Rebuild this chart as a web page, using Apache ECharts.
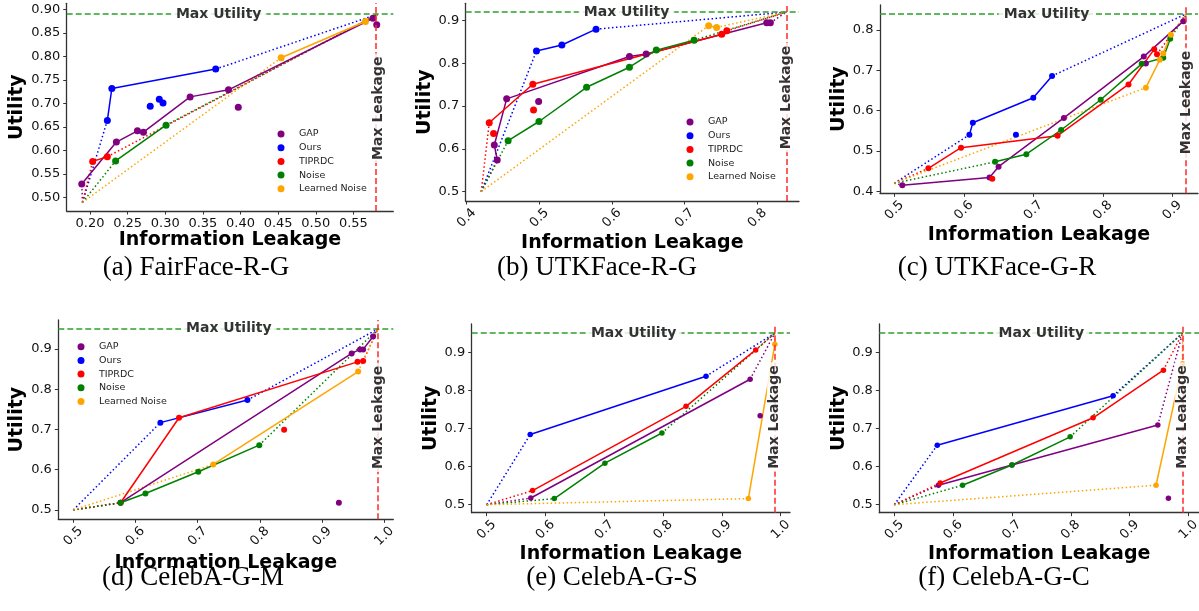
<!DOCTYPE html>
<html><head><meta charset="utf-8">
<script src="https://cdn.jsdelivr.net/npm/echarts@6/dist/echarts.min.js"></script>
<style>html,body{margin:0;padding:0;background:#fff}#c{width:1199px;height:611px}</style>
</head><body><div id="c"></div>
<script>
// ---------------- DATA ----------------
const methodNames = ['GAP', 'Ours', 'TIPRDC', 'Noise', 'Learned Noise'];
const captions = ['(a) FairFace-R-G', '(b) UTKFace-R-G', '(c) UTKFace-G-R', '(d) CelebA-G-M', '(e) CelebA-G-S', '(f) CelebA-G-C'];

// (a) FairFace-R-G
const aOrigin = [0.19, 0.49];
const aMax = [0.583, 0.89];
const aGAP = [[0.189,0.529],[0.235,0.618],[0.263,0.642],[0.271,0.639],[0.333,0.714],[0.384,0.729],[0.576,0.881]];
const aGAPExtra = [[0.397,0.692],[0.581,0.867]];
const aOurs = [[0.223,0.664],[0.229,0.732],[0.367,0.773]];
const aOursExtra = [[0.280,0.694],[0.292,0.709],[0.297,0.701]];
const aTIPRDC = [[0.2035,0.577],[0.223,0.587]];
const aNoise = [[0.234,0.578],[0.301,0.654]];
const aLearned = [[0.454,0.797],[0.566,0.874]];

// (b) UTKFace-R-G
const bOrigin = [0.42, 0.50];
const bMax = [0.84, 0.92];
const bGAP = [[0.442,0.574],[0.438,0.609],[0.455,0.717],[0.624,0.816],[0.647,0.822],[0.813,0.895],[0.818,0.895]];
const bGAPExtra = [[0.499,0.711]];
const bOurs = [[0.496,0.829],[0.531,0.843],[0.578,0.880]];
const bTIPRDC = [[0.431,0.661],[0.491,0.751],[0.751,0.868],[0.758,0.876]];
const bTIPRDCExtra = [[0.437,0.636],[0.492,0.691]];
const bNoise = [[0.457,0.619],[0.4995,0.664],[0.565,0.744],[0.624,0.791],[0.661,0.831],[0.713,0.854]];
const bLearned = [[0.733,0.888],[0.744,0.884]];

// (c) UTKFace-G-R
const cOrigin = [0.50, 0.42];
const cMax = [0.92, 0.84];
const cGAP = [[0.5115,0.415],[0.637,0.434],[0.650,0.461],[0.744,0.582],[0.859,0.734],[0.916,0.822]];
const cGAPExtra = [[0.862,0.717]];
const cOurs = [[0.608,0.540],[0.613,0.570],[0.700,0.632],[0.727,0.686]];
const cOursExtra = [[0.675,0.540]];
const cTIPRDC = [[0.549,0.457],[0.596,0.508],[0.735,0.538],[0.837,0.665],[0.874,0.752],[0.878,0.740]];
const cTIPRDCExtra = [[0.641,0.431]];
const cNoise = [[0.645,0.473],[0.690,0.492],[0.740,0.552],[0.797,0.627],[0.856,0.716],[0.887,0.731],[0.897,0.778]];
const cLearned = [[0.862,0.657],[0.882,0.726],[0.887,0.742],[0.898,0.788]];

// (d) CelebA-G-M
const dOrigin = [0.50, 0.50];
const dMax = [0.99, 0.95];
const dGAP = [[0.576,0.518],[0.9475,0.889],[0.961,0.899],[0.966,0.899],[0.982,0.931]];
const dGAPExtra = [[0.927,0.518]];
const dOurs = [[0.640,0.717],[0.780,0.773]];
const dTIPRDC = [[0.576,0.518],[0.670,0.729],[0.957,0.868],[0.966,0.870]];
const dTIPRDCExtra = [[0.839,0.699]];
const dNoise = [[0.576,0.518],[0.616,0.541],[0.701,0.595],[0.799,0.661]];
const dLearned = [[0.725,0.613],[0.958,0.844]];

// (e) CelebA-G-S
const eOrigin = [0.50, 0.50];
const eMax = [0.99, 0.95];
const eGAP = [[0.575,0.5175],[0.948,0.829]];
const eGAPExtra = [[0.965,0.733]];
const eOurs = [[0.574,0.684],[0.873,0.837]];
const eTIPRDC = [[0.578,0.537],[0.839,0.758],[0.9575,0.906]];
const eNoise = [[0.615,0.516],[0.701,0.609],[0.798,0.688]];
const eLearned = [[0.945,0.516],[0.990,0.921]];

// (f) CelebA-G-C
const fOrigin = [0.50, 0.50];
const fMax = [0.99, 0.95];
const fGAP = [[0.575,0.551],[0.700,0.604],[0.948,0.709]];
const fGAPExtra = [[0.966,0.517]];
const fOurs = [[0.573,0.656],[0.872,0.786]];
const fTIPRDC = [[0.578,0.557],[0.838,0.728],[0.9575,0.853]];
const fNoise = [[0.616,0.551],[0.700,0.604],[0.799,0.678]];
const fLearned = [[0.945,0.551],[0.990,0.870]];

// axes
const xRange = [[0.169,0.603],[0.3986,0.8574],[0.4794,0.937],[0.4759,1.0145],[0.4745,1.0158],[0.4745,1.018]];
const yRange = [[0.4717,0.9127],[0.478,0.9405],[0.395,0.862],[0.4768,0.972],[0.479,0.974],[0.479,0.974]];
const xTicks = [
  [0.20,0.25,0.30,0.35,0.40,0.45,0.50,0.55],
  [0.4,0.5,0.6,0.7,0.8],
  [0.5,0.6,0.7,0.8,0.9],
  [0.5,0.6,0.7,0.8,0.9,1.0],
  [0.5,0.6,0.7,0.8,0.9,1.0],
  [0.5,0.6,0.7,0.8,0.9,1.0]];
const yTicks = [
  [0.50,0.55,0.60,0.65,0.70,0.75,0.80,0.85,0.90],
  [0.5,0.6,0.7,0.8,0.9],
  [0.4,0.5,0.6,0.7,0.8],
  [0.5,0.6,0.7,0.8,0.9],
  [0.5,0.6,0.7,0.8,0.9],
  [0.5,0.6,0.7,0.8,0.9]];
const tickDecimals = [2,1,1,1,1,1];
const utilLabelX = [0.371, 0.62, 0.719, 0.75, 0.75, 0.75];
const leakLabelY = [0.69, 0.72, 0.62, 0.73, 0.73, 0.73];

// ---------------- LAYOUT / STYLE ----------------
const colors = ['#800080', '#0000ff', '#ff0000', '#008000', '#ffa500'];
const grids = [
  {left:66.7, top:3.3, width:326.6, height:207.7},
  {left:465.7, top:3.3, width:333.3, height:197.7},
  {left:880, top:5, width:318, height:188.3},
  {left:58.3, top:320, width:335, height:199.3},
  {left:471.7, top:324, width:318.3, height:188.7},
  {left:879.3, top:324, width:319.7, height:188.7}];
const xNameGap = [19.5, 32.5, 32, 34, 31, 31];
const yNameGap = [40, 29.5, 29, 32, 29, 28];
const symSize = [7, 7, 6, 6, 5.5, 5.5];
const xRot = [0, 45, 45, 45, 45, 45];
const captionPos = [[196,268],[597,268],[997,268],[193,578],[612,578],[1004,578]];
const legendPos = [{left:277.5, top:129}, {left:686.5, top:117}, {left:77.5, top:341.7}];

const panels = [
  {origin:aOrigin, max:aMax, lines:[aGAP,aOurs,aTIPRDC,aNoise,aLearned], extras:[aGAPExtra,aOursExtra,[],[],[]]},
  {origin:bOrigin, max:bMax, lines:[bGAP,bOurs,bTIPRDC,bNoise,bLearned], extras:[bGAPExtra,[],bTIPRDCExtra,[],[]]},
  {origin:cOrigin, max:cMax, lines:[cGAP,cOurs,cTIPRDC,cNoise,cLearned], extras:[cGAPExtra,cOursExtra,cTIPRDCExtra,[],[]]},
  {origin:dOrigin, max:dMax, lines:[dGAP,dOurs,dTIPRDC,dNoise,dLearned], extras:[dGAPExtra,[],dTIPRDCExtra,[],[]]},
  {origin:eOrigin, max:eMax, lines:[eGAP,eOurs,eTIPRDC,eNoise,eLearned], extras:[eGAPExtra,[],[],[],[]]},
  {origin:fOrigin, max:fMax, lines:[fGAP,fOurs,fTIPRDC,fNoise,fLearned], extras:[fGAPExtra,[],[],[],[]]}];

const FONT = 'DejaVu Sans';
const axisColor = '#333';

const gridOpt = grids.map(g => Object.assign({containLabel:false, outerBoundsMode:'none'}, g));
const xAxes = panels.map((p,i) => ({
  type:'value', gridIndex:i, min:xRange[i][0], max:xRange[i][1],
  name:'Information Leakage', nameLocation:'middle', nameGap:xNameGap[i],
  nameTextStyle:{fontFamily:FONT, fontSize:19, fontWeight:'bold', color:'#000'},
  axisLine:{show:true, onZero:false, lineStyle:{color:axisColor, width:1.3}},
  axisTick:{show:true, length:3.5, customValues:xTicks[i], lineStyle:{color:axisColor, width:1}},
  axisLabel:xRot[i] ? {customValues:xTicks[i], formatter:v=>Number(v).toFixed(tickDecimals[i]), fontFamily:FONT, fontSize:13, color:'#111', rotate:45, align:'center', verticalAlign:'middle', margin:17}
                    : {customValues:xTicks[i], formatter:v=>Number(v).toFixed(tickDecimals[i]), fontFamily:FONT, fontSize:13, color:'#111', margin:6},
  splitLine:{show:false}
}));
const yAxes = panels.map((p,i) => ({
  type:'value', gridIndex:i, min:yRange[i][0], max:yRange[i][1],
  name:'Utility', nameLocation:'middle', nameGap:yNameGap[i], nameRotate:90,
  nameTextStyle:{fontFamily:FONT, fontSize:19, fontWeight:'bold', color:'#000'},
  axisLine:{show:true, onZero:false, lineStyle:{color:axisColor, width:1.3}},
  axisTick:{show:true, length:3.5, customValues:yTicks[i], lineStyle:{color:axisColor, width:1}},
  axisLabel:{customValues:yTicks[i], formatter:v=>Number(v).toFixed(tickDecimals[i]), fontFamily:FONT, fontSize:13, color:'#111', margin:6.5},
  splitLine:{show:false}
}));

const series = [];
const dotted = [1.5, 2.5];
panels.forEach((p, i) => {
  // reference lines
  series.push({
    type:'scatter', xAxisIndex:i, yAxisIndex:i, data:[p.max], symbolSize:0.1, itemStyle:{color:'rgba(0,0,0,0)'}, silent:true, z:1,
    markLine:{symbol:['none','none'], silent:true, animation:false, label:{show:false},
      data:[{yAxis:p.max[1], lineStyle:{color:'#2ca02c', type:[6,3], width:1.5}},
            {xAxis:p.max[0], lineStyle:{color:'#ff2a2a', type:[6,3], width:1.5}}]}
  });
  p.lines.forEach((pts, j) => {
    const c = colors[j];
    series.push({type:'line', xAxisIndex:i, yAxisIndex:i, data:[p.origin, pts[0]], symbol:'none', silent:true, z:2,
      lineStyle:{color:c, width:1.5, type:dotted}});
    series.push({type:'line', xAxisIndex:i, yAxisIndex:i, data:[pts[pts.length-1], p.max], symbol:'none', silent:true, z:2,
      lineStyle:{color:c, width:1.5, type:dotted}});
    series.push({type:'line', name:methodNames[j], xAxisIndex:i, yAxisIndex:i, data:pts, symbol:'circle', symbolSize:symSize[i], showSymbol:true, z:3,
      lineStyle:{color:c, width:1.5}, itemStyle:{color:c}});
    if (p.extras[j].length) {
      series.push({type:'scatter', name:methodNames[j], xAxisIndex:i, yAxisIndex:i, data:p.extras[j], symbol:'circle', symbolSize:symSize[i], z:3, itemStyle:{color:c, opacity:1}});
    }
  });
  // annotation labels
  series.push({type:'scatter', xAxisIndex:i, yAxisIndex:i, data:[[utilLabelX[i], p.max[1]]], symbolSize:0.1, itemStyle:{color:'rgba(0,0,0,0)'}, silent:true, z:10,
    label:{show:true, position:'inside', formatter:'Max Utility', fontFamily:FONT, fontSize:14, fontWeight:'bold', color:'#000', backgroundColor:'#fff', padding:[1,5]}});
  series.push({type:'scatter', xAxisIndex:i, yAxisIndex:i, data:[[p.max[0], leakLabelY[i]]], symbolSize:0.1, itemStyle:{color:'rgba(0,0,0,0)'}, silent:true, z:10,
    label:{show:true, position:'inside', rotate:90, formatter:'Max Leakage', fontFamily:FONT, fontSize:14, fontWeight:'bold', color:'#000', backgroundColor:'#fff', padding:[1,3]}});
});

const legends = legendPos.map(lp => ({
  data:methodNames, orient:'vertical', left:lp.left, top:lp.top, icon:'circle', padding:0,
  itemWidth:26, itemHeight:7, itemGap:3.7, selectedMode:false,
  textStyle:{fontFamily:FONT, fontSize:9.5, color:'#222'}
}));

const graphics = captions.map((t, i) => ({
  type:'text', x:captionPos[i][0], y:captionPos[i][1],
  style:{text:t, fontFamily:'Liberation Serif', fontSize:27, fill:'#000', align:'center', verticalAlign:'middle'}
}));

const chart = echarts.init(document.getElementById('c'), null, {renderer:'canvas'});
chart.setOption({
  animation:false,
  backgroundColor:'#fff',
  textStyle:{fontFamily:FONT},
  grid:gridOpt, xAxis:xAxes, yAxis:yAxes,
  legend:legends, series:series, graphic:graphics
});
</script></body></html>
